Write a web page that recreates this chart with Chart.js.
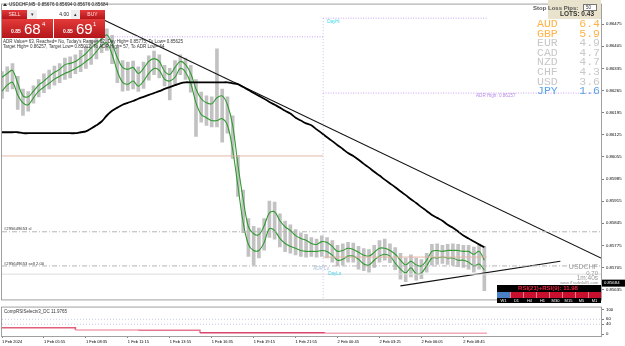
<!DOCTYPE html>
<html>
<head>
<meta charset="utf-8">
<script src="https://cdn.jsdelivr.net/npm/chart.js@4.4.1/dist/chart.umd.min.js"></script>
<style>
html, body { margin: 0; padding: 0; background: #fff; }
#wrap { position: relative; width: 625px; height: 346px; overflow: hidden; }
#main { position: absolute; left: 0; top: 0; }
#ind { position: absolute; left: 0; top: 303px; }
</style>
</head>
<body>
<div id="wrap">
  <canvas id="main" width="625" height="304" style="width:625px;height:304px"></canvas>
  <canvas id="ind" width="625" height="43" style="width:625px;height:43px"></canvas>
</div>
<script>
// ---- data (USDCHF M5, prices in points = 0.00001) ----
var timeLabels = ['1 Feb 2024', '1 Feb 05:55', '1 Feb 08:35', '1 Feb 11:15', '1 Feb 13:55', '1 Feb 16:35',
                  '1 Feb 19:15', '1 Feb 21:55', '2 Feb 00:45', '2 Feb 03:25', '2 Feb 06:05', '2 Feb 08:45'];
var priceTicks = [0.86475, 0.86405, 0.86335, 0.86265, 0.86195, 0.86125, 0.86055,
                  0.85985, 0.85915, 0.85845, 0.85775, 0.85705, 0.85635];

// one sample every 4 bars
var upperBand = [86307, 86319, 86329, 86288, 86248, 86245, 86263, 86282, 86295, 86310,
  86323, 86332, 86347, 86351, 86357, 86369, 86382, 86400, 86413, 86428,
  86441, 86413, 86369, 86338, 86332, 86338, 86319, 86335, 86357, 86366,
  86357, 86326, 86316, 86338, 86357, 86347, 86319, 86270, 86239, 86226,
  86223, 86242, 86248, 86220, 86155, 86030, 85921, 85834, 85812, 85809,
  85837, 85878, 85881, 85853, 85834, 85822, 85806, 85797, 85791, 85781,
  85778, 85787, 85784, 85772, 85756, 85759, 85766, 85762, 85753, 85744,
  85741, 85753, 85766, 85766, 85759, 85747, 85728, 85713, 85725, 85713,
  85710, 85728, 85756, 85759, 85756, 85759, 85759, 85759, 85756, 85756,
  85747, 85756, 85728];
var lowerBand = [86263, 86282, 86291, 86251, 86226, 86220, 86242, 86263, 86276, 86288,
  86301, 86310, 86319, 86326, 86335, 86344, 86357, 86369, 86388, 86407,
  86416, 86379, 86326, 86291, 86285, 86295, 86279, 86295, 86319, 86335,
  86329, 86301, 86295, 86307, 86335, 86323, 86288, 86226, 86189, 86179,
  86170, 86170, 86176, 86155, 86077, 85962, 85847, 85778, 85759, 85759,
  85784, 85828, 85822, 85797, 85781, 85772, 85766, 85759, 85756, 85756,
  85756, 85759, 85756, 85744, 85728, 85731, 85741, 85741, 85731, 85716,
  85713, 85728, 85741, 85747, 85741, 85719, 85700, 85688, 85704, 85685,
  85688, 85710, 85735, 85735, 85738, 85735, 85735, 85728, 85728, 85722,
  85710, 85716, 85697];
var candleHigh = [86325, 86340, 86350, 86310, 86270, 86262, 86280, 86300, 86318, 86330,
  86342, 86350, 86368, 86372, 86378, 86392, 86405, 86425, 86432, 86448,
  86460, 86440, 86400, 86360, 86355, 86358, 86340, 86355, 86375, 86390,
  86378, 86345, 86335, 86360, 86378, 86368, 86345, 86300, 86260, 86248,
  86245, 86397, 86270, 86245, 86185, 86060, 85950, 85860, 85835, 85830,
  85860, 85915, 85912, 85875, 85852, 85840, 85825, 85815, 85810, 85800,
  85795, 85805, 85800, 85790, 85775, 85780, 85785, 85782, 85772, 85765,
  85762, 85775, 85790, 85795, 85780, 85768, 85750, 85735, 85745, 85735,
  85730, 85750, 85778, 85780, 85775, 85778, 85780, 85778, 85775, 85775,
  85770, 85780, 85772];
var candleLow = [86240, 86262, 86270, 86205, 86186, 86200, 86225, 86245, 86258, 86270,
  86282, 86290, 86300, 86305, 86318, 86325, 86335, 86348, 86365, 86385,
  86392, 86350, 86290, 86263, 86265, 86270, 86262, 86272, 86298, 86315,
  86305, 86280, 86235, 86285, 86315, 86300, 86260, 86120, 86165, 86155,
  86150, 86150, 86102, 86130, 86050, 85930, 85815, 85740, 85713, 85735,
  85760, 85800, 85795, 85770, 85755, 85750, 85745, 85740, 85738, 85740,
  85738, 85740, 85735, 85722, 85710, 85712, 85722, 85722, 85700, 85695,
  85690, 85705, 85722, 85728, 85720, 85698, 85668, 85660, 85675, 85665,
  85670, 85690, 85712, 85715, 85718, 85715, 85712, 85708, 85705, 85700,
  85690, 85700, 85632];
var slowMA = [86133, 86133, 86133, 86133, 86130, 86130, 86130, 86130, 86130, 86130,
  86130, 86130, 86130, 86130, 86130, 86133, 86136, 86145, 86155, 86167,
  86186, 86201, 86211, 86220, 86226, 86232, 86239, 86245, 86251, 86257,
  86263, 86270, 86276, 86282, 86288, 86291, 86291, 86291, 86291, 86291,
  86291, 86291, 86291, 86291, 86288, 86285, 86276, 86267, 86257, 86248,
  86239, 86229, 86220, 86211, 86201, 86192, 86179, 86170, 86161, 86155,
  86142, 86130, 86117, 86105, 86092, 86080, 86067, 86058, 86046, 86033,
  86021, 86008, 85996, 85983, 85971, 85959, 85946, 85934, 85921, 85909,
  85896, 85884, 85871, 85862, 85853, 85840, 85831, 85819, 85806, 85797,
  85787, 85778, 85769];

// trend lines: [bar, price] -> [bar, price]
var trendBars = [[77, 457], [304, 426]];
var trendPrices = [[0.86490, 0.85735], [0.85647, 0.85725]];

var slLevel = 0.85818, sellLevel = 0.85710, bidPrice = 0.85684;
var dayOpen = [0.86058, 0.85738];
var dayHigh = [0.86435, 0.86494];
var adrHigh = 0.86257;
var dayBreakBar = 245, lastBar = 370;

var strengthNames = ['AUD', 'GBP', 'EUR', 'CAD', 'NZD', 'CHF', 'USD', 'JPY'];
var strengthValues = [6.4, 5.9, 4.9, 4.7, 4.7, 4.3, 3.6, 1.6];

// CompRSI steps
var rsiFrom = [0, 56, 104, 151, 246];
var rsiValue = [26, 17, 16, 6, 4];

var SAMPLE_STEP = 4, AXIS_BARS = 457, TIME_STEP = 32, PT = 100000;
var FONT = "'Liberation Sans', Arial, sans-serif";

function series(arr) {
    return arr.map(function(v, i) { return { x: i * SAMPLE_STEP, y: v / PT }; });
}
function hline(price, from, to) {
    return [{ x: from, y: price }, { x: to, y: price }];
}
function lineDs(data, color, width, dash, extra) {
    var ds = { type: 'line', data: data, borderColor: color, borderWidth: width, pointRadius: 0,
               borderDash: dash || [], fill: false, order: 1 };
    for (var k in extra || {}) ds[k] = extra[k];
    return ds;
}

function txt(c, s, x, y, font, color, align) {
    c.font = font; c.fillStyle = color; c.textAlign = align || 'left'; c.textBaseline = 'middle';
    c.fillText(s, x, y);
}
function redBox(c, x, y, w, h) {
    var g = c.createLinearGradient(0, y, 0, y + h);
    g.addColorStop(0, '#e43a3a'); g.addColorStop(1, '#b3161a');
    c.fillStyle = g; c.fillRect(x, y, w, h);
}

var mainOverlay = {
    id: 'mainOverlay',
    afterDraw: function(chart) {
        var c = chart.ctx, a = chart.chartArea, ys = chart.scales.y, xs = chart.scales.x;
        c.save();
        c.strokeStyle = '#a0a0a0'; c.lineWidth = 1;
        c.strokeRect(a.left - 0.5, a.top - 0.5, a.right - a.left + 1, a.bottom - a.top + 1);

        // header
        c.fillStyle = '#333';
        c.beginPath(); c.moveTo(3, 6); c.lineTo(5, 3); c.lineTo(7, 6); c.fill();
        txt(c, 'USDCHF,M5  0.85676 0.85694 0.85676 0.85684', 9, 5, '4.6px ' + FONT, '#222');

        // one click trading panel
        redBox(c, 2, 10, 25, 9);
        c.fillStyle = '#eeeeee'; c.fillRect(27, 10, 10, 9);
        c.fillStyle = '#ffffff'; c.fillRect(37, 10, 34, 9);
        c.fillStyle = '#eeeeee'; c.fillRect(71, 10, 9, 9);
        redBox(c, 80, 10, 25, 9);
        redBox(c, 2, 19, 51, 19);
        redBox(c, 54, 19, 51, 19);
        txt(c, 'SELL', 14.5, 14.7, '5px ' + FONT, '#ffe0e0', 'center');
        txt(c, 'BUY', 92.5, 14.7, '5px ' + FONT, '#ffe0e0', 'center');
        txt(c, '\u25BE', 32, 14.5, '5px ' + FONT, '#333', 'center');
        txt(c, '\u25B4', 75.5, 14.5, '5px ' + FONT, '#333', 'center');
        txt(c, '4.00', 69, 14.7, '5px ' + FONT, '#222', 'right');
        txt(c, '0.85', 11, 32, 'bold 5px ' + FONT, '#fff');
        txt(c, '68', 24, 29.5, '15px ' + FONT, '#fff');
        txt(c, '4', 42, 24, '6px ' + FONT, '#fff');
        txt(c, '0.85', 63, 32, 'bold 5px ' + FONT, '#fff');
        txt(c, '69', 76, 29.5, '15px ' + FONT, '#fff');
        txt(c, '1', 93, 24, '6px ' + FONT, '#fff');

        // ADR info
        txt(c, "ADR Value= 63, Reached= No, Today's Range= 62, Day High= 0.85775, To Low= 0.85625", 3, 42, '4.5px ' + FONT, '#333');
        txt(c, 'Target High= 0.86257, Target Low= 0.85012, To ADR High= 57, To ADR Low= 64', 3, 47, '4.5px ' + FONT, '#333');

        // order line labels
        txt(c, '#295649653 sl', 4, ys.getPixelForValue(slLevel) - 2.5, '4.2px ' + FONT, '#333');
        txt(c, '#295649653 sell 2.00', 4, ys.getPixelForValue(sellLevel) - 2.5, '4.2px ' + FONT, '#333');

        var xb = xs.getPixelForValue(dayBreakBar);
        txt(c, 'DayHi', xb + 4, ys.getPixelForValue(dayHigh[1]) + 4, '4.6px ' + FONT, '#3fd6ea');
        txt(c, 'ADR High: 0.86257', 476, ys.getPixelForValue(adrHigh) + 3, '4.6px ' + FONT, '#b98ce6');
        txt(c, 'ADR Lo', xb - 10, ys.getPixelForValue(sellLevel) + 3, '4.6px ' + FONT, '#a8bedc');
        txt(c, 'DayLo', xb + 5, ys.getPixelForValue(sellLevel) + 4 + 4, '4.6px ' + FONT, '#4fd0ea');

        // stop loss box
        c.fillStyle = '#e9e2cc'; c.fillRect(548, 0, 53, 19);
        txt(c, 'Stop Loss Pips:', 533, 8, 'bold 6px ' + FONT, '#555');
        c.fillStyle = '#fff'; c.fillRect(583, 4, 14, 7);
        c.strokeStyle = '#777'; c.strokeRect(583.5, 4.5, 13, 6);
        txt(c, '50', 586, 7.7, '4.5px ' + FONT, '#333');
        txt(c, 'LOTS: 0.43', 594, 14.5, 'bold 6.5px ' + FONT, '#333', 'right');

        // currency strength
        for (var i = 0; i < strengthNames.length; i++) {
            var col = i < 2 ? '#ffb247' : (i === 7 ? '#5aa2ea' : '#c8c8c8');
            txt(c, strengthNames[i], 537, 24 + i * 9.6, '11.5px "Liberation Mono", monospace', col);
            txt(c, strengthValues[i].toFixed(1), 600, 24 + i * 9.6, '11.5px "Liberation Mono", monospace', col, 'right');
        }

        // symbol info bottom right
        txt(c, 'USDCHF', 598, 267, '7px ' + FONT, '#9a9a9a', 'right');
        txt(c, '0.70', 598, 273, '6px ' + FONT, '#9a9a9a', 'right');
        txt(c, '1m:40s', 598, 278.5, '6.5px ' + FONT, '#9a9a9a', 'right');
        txt(c, 'www.iTrade4all5.com', 598, 283, '4px ' + FONT, '#8a8a8a', 'right');

        c.fillStyle = '#000'; c.fillRect(497, 285, 104, 7);
        txt(c, 'RSI(21)+RSI(9): 11.98', 548, 288.7, 'bold 6px ' + FONT, '#e8203e', 'center');
        c.fillStyle = '#c8102e'; c.fillRect(497, 292, 104, 6);
        c.fillStyle = '#4a80c4'; c.fillRect(497, 292, 13, 6);
        c.strokeStyle = '#e87b8c';
        for (var j = 1; j < 8; j++) {
            c.beginPath(); c.moveTo(497 + j * 13 + 0.5, 292); c.lineTo(497 + j * 13 + 0.5, 298); c.stroke();
        }
        c.fillStyle = '#000'; c.fillRect(497, 298, 104, 5);
        var tfs = ['W1', 'D1', 'H4', 'H1', 'M30', 'M15', 'M5', 'M1'];
        for (var t = 0; t < tfs.length; t++) {
            txt(c, tfs[t], 503.5 + t * 13, 300.7, '4px ' + FONT, '#fff', 'center');
        }

        // bid label on the price axis
        var yb = ys.getPixelForValue(bidPrice) + 9;
        c.fillStyle = '#000'; c.fillRect(602, yb - 3.5, 23, 7);
        txt(c, '0.85684', 604, yb, '4.3px ' + FONT, '#fff');
        c.restore();
    }
};

var indOverlay = {
    id: 'indOverlay',
    afterDraw: function(chart) {
        var c = chart.ctx, a = chart.chartArea;
        c.save();
        c.strokeStyle = '#a0a0a0'; c.lineWidth = 1;
        c.strokeRect(a.left - 0.5, a.top - 0.5, a.right - a.left + 1, a.bottom - a.top + 1);
        txt(c, 'CompRSISelectv3_DC 11.9765', 4, a.top + 4.5, '4.5px ' + FONT, '#333');
        c.restore();
    }
};

// ---- main price chart ----
var candleData = candleLow.map(function(lo, i) {
    return { x: i * SAMPLE_STEP, y: [lo / PT, candleHigh[i] / PT] };
});
var mainDatasets = [
    { type: 'bar', data: candleData, backgroundColor: '#c2c2c2', barThickness: 3, order: 10 },
    lineDs(hline(bidPrice, 0, AXIS_BARS), '#dcdcdc', 1),
    lineDs(hline(dayOpen[0], 0, dayBreakBar), '#e2b8a6', 1),
    lineDs(hline(dayOpen[1], dayBreakBar, lastBar), '#e2b8a6', 1),
    lineDs(hline(slLevel, 0, AXIS_BARS), '#b4b4b4', 1, [5, 2, 1, 2]),
    lineDs(hline(sellLevel, 0, AXIS_BARS), '#b4b4b4', 1, [5, 2, 1, 2]),
    lineDs(hline(dayHigh[0], 0, dayBreakBar), '#c9a4f2', 1, [1, 1.5]),
    lineDs(hline(dayHigh[1], dayBreakBar, lastBar), '#c9a4f2', 1, [1, 1.5]),
    lineDs(hline(adrHigh, dayBreakBar, AXIS_BARS), '#c9a4f2', 1, [1, 1.5]),
    lineDs([{ x: dayBreakBar, y: dayHigh[1] }, { x: dayBreakBar, y: 0.85604 }], '#bcc2f0', 1, [1, 2]),
    lineDs(series(slowMA), '#000000', 1.8, null, { tension: 0.3 }),
    lineDs(series(upperBand), '#2f9a2f', 1.1, null, { tension: 0.35 }),
    lineDs(series(lowerBand), '#2f9a2f', 1.1, null, { tension: 0.35 })
];
trendBars.forEach(function(b, i) {
    mainDatasets.push(lineDs([{ x: b[0], y: trendPrices[i][0] }, { x: b[1], y: trendPrices[i][1] }], '#111', 1.1));
});

new Chart(document.getElementById('main').getContext('2d'), {
    type: 'bar',
    data: { datasets: mainDatasets },
    options: {
        responsive: false,
        animation: false,
        events: [],
        layout: { padding: { left: 2, top: 2, right: 0, bottom: 2 } },
        plugins: { legend: { display: false }, tooltip: { enabled: false } },
        scales: {
            x: { type: 'linear', min: 0, max: AXIS_BARS, display: false, offset: false, grid: { offset: false } },
            y: {
                position: 'right', min: 0.85604, max: 0.86537,
                afterBuildTicks: function(axis) {
                    axis.ticks = priceTicks.map(function(v) { return { value: v }; });
                },
                afterFit: function(s) { s.width = 24; },
                ticks: {
                    font: { family: FONT, size: 4.3 }, color: '#000', padding: 2, autoSkip: false,
                    callback: function(v) { return v.toFixed(5); }
                },
                grid: { drawOnChartArea: false, tickLength: 3, color: '#808080' },
                border: { color: '#808080' }
            }
        }
    },
    plugins: [mainOverlay]
});

// ---- indicator panel ----
var rsiPoints = rsiFrom.map(function(b, i) { return { x: b, y: rsiValue[i] }; });
rsiPoints.push({ x: lastBar, y: rsiValue[rsiValue.length - 1] });
var rsiColors = ['#e0607c', '#f2a2b2', '#e8788f', '#d9456c', '#f2aabb'];

new Chart(document.getElementById('ind').getContext('2d'), {
    type: 'line',
    data: {
        datasets: [
            lineDs(hline(60, 0, AXIS_BARS), '#c4cce0', 1, [1, 2]),
            lineDs(hline(40, 0, AXIS_BARS), '#c4cce0', 1, [1, 2]),
            lineDs(rsiPoints, '#e0607c', 1.6, null, {
                stepped: 'before',
                segment: { borderColor: function(ctx) { return rsiColors[ctx.p0DataIndex]; } }
            })
        ]
    },
    options: {
        responsive: false,
        animation: false,
        events: [],
        layout: { padding: { left: 2, top: 1, right: 0, bottom: 0 } },
        plugins: { legend: { display: false }, tooltip: { enabled: false } },
        scales: {
            x: {
                type: 'linear', min: 0, max: AXIS_BARS, offset: false,
                afterBuildTicks: function(axis) {
                    axis.ticks = timeLabels.map(function(l, i) { return { value: i * TIME_STEP }; });
                },
                afterFit: function(s) { s.height = 10; },
                ticks: {
                    font: { family: FONT, size: 4 }, color: '#000', padding: 1, align: 'start',
                    maxRotation: 0, autoSkip: false,
                    callback: function(v) { return timeLabels[Math.round(v / TIME_STEP)]; }
                },
                grid: { drawOnChartArea: false, tickLength: 2, color: '#808080' },
                border: { display: false }
            },
            y: {
                position: 'right', min: -7, max: 107,
                afterBuildTicks: function(axis) {
                    axis.ticks = [100, 60, 40, 0].map(function(v) { return { value: v }; });
                },
                afterFit: function(s) { s.width = 24; },
                ticks: { font: { family: FONT, size: 4.3 }, color: '#000', padding: 2, autoSkip: false },
                grid: { drawOnChartArea: false, tickLength: 3, color: '#808080' },
                border: { color: '#808080' }
            }
        }
    },
    plugins: [indOverlay]
});
</script>
</body>
</html>
